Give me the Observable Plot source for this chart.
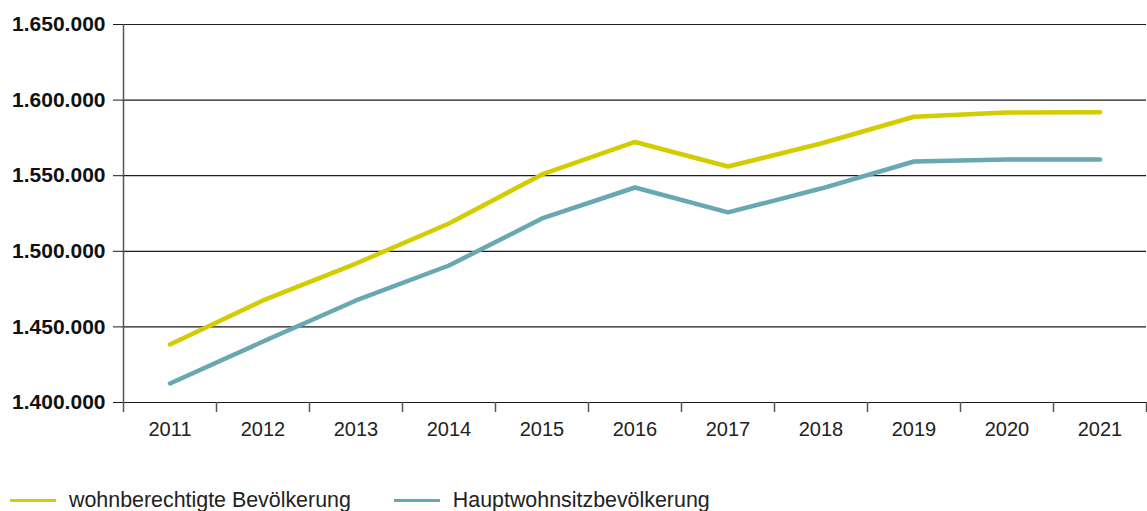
<!DOCTYPE html>
<html>
<head>
<meta charset="utf-8">
<script src="https://cdn.jsdelivr.net/npm/d3@7"></script>
<script src="https://cdn.jsdelivr.net/npm/@observablehq/plot@0.6"></script>
<style>
  html, body { margin: 0; padding: 0; background: #fff; }
  #chart svg { display: block; }
  .legend { display: flex; align-items: center; font-family: "Liberation Sans", Arial, sans-serif; font-size: 21.4px; color: #222; height: 24px; padding-top: 28px; }
  .legend .item { display: flex; align-items: center; }
  .legend .sw { display: inline-block; width: 46px; height: 3px; margin-right: 13px; }
</style>
</head>
<body>
<div id="chart"></div>
<div class="legend" id="legend"></div>
<script>
const years = [2011, 2012, 2013, 2014, 2015, 2016, 2017, 2018, 2019, 2020, 2021];
const wohnberechtigt = [1438400, 1467500, 1491900, 1518400, 1550800, 1572300, 1556100, 1571300, 1589000, 1591800, 1591900];
const hauptwohnsitz = [1412600, 1440300, 1467500, 1490600, 1521700, 1542200, 1525700, 1541500, 1559400, 1560700, 1560700];
const seriesNames = ["wohnberechtigte Bevölkerung", "Hauptwohnsitzbevölkerung"];
const seriesColors = ["#d2cc00", "#67a8b3"];
const yTicks = [1400000, 1450000, 1500000, 1550000, 1600000, 1650000];

const data = [];
years.forEach((yr, i) => {
  data.push({year: yr, value: wohnberechtigt[i], series: seriesNames[0]});
  data.push({year: yr, value: hauptwohnsitz[i], series: seriesNames[1]});
});
const boundaries = [years[0] - 0.5, ...years.map(y => y + 0.5)];
const fmt = d3.formatLocale({decimal: ",", thousands: ".", grouping: [3], currency: ["", " €"]}).format(",d");

const chart = Plot.plot({
  width: 1147,
  height: 460,
  marginLeft: 123,
  marginRight: 1,
  marginTop: 24,
  marginBottom: 58,
  style: {fontFamily: "Liberation Sans, Arial, sans-serif", background: "#fff"},
  x: {type: "linear", domain: [boundaries[0], boundaries[boundaries.length - 1]]},
  y: {domain: [yTicks[0], yTicks[yTicks.length - 1]]},
  color: {domain: seriesNames, range: seriesColors},
  marks: [
    Plot.ruleY(yTicks, {stroke: "#1a1a1a", strokeWidth: 1.2}),
    Plot.ruleX([boundaries[0]], {stroke: "#555", strokeWidth: 1.5}),
    Plot.axisY({ticks: yTicks, tickFormat: fmt, tickSize: 10, tickPadding: 8, label: null, fontSize: 21, fontWeight: "bold", stroke: "#1a1a1a", fill: "#111"}),
    Plot.axisX({ticks: boundaries, tickFormat: () => "", tickSize: 10, label: null, stroke: "#555", strokeWidth: 1.5}),
    Plot.axisX({ticks: years, tickFormat: d => String(d), tickSize: 0, tickPadding: 19, label: null, fontSize: 20, fill: "#222"}),
    Plot.line(data, {x: "year", y: "value", z: "series", stroke: "series", strokeWidth: 4.5, strokeLinecap: "round", strokeLinejoin: "round"})
  ]
});
document.getElementById("chart").appendChild(chart);

const legend = document.getElementById("legend");
seriesNames.forEach((name, i) => {
  const item = document.createElement("span");
  item.className = "item";
  item.style.marginLeft = i === 0 ? "10px" : "43px";
  const sw = document.createElement("span");
  sw.className = "sw";
  sw.style.background = seriesColors[i];
  const t = document.createElement("span");
  t.textContent = name;
  item.appendChild(sw);
  item.appendChild(t);
  legend.appendChild(item);
});
</script>
</body>
</html>
